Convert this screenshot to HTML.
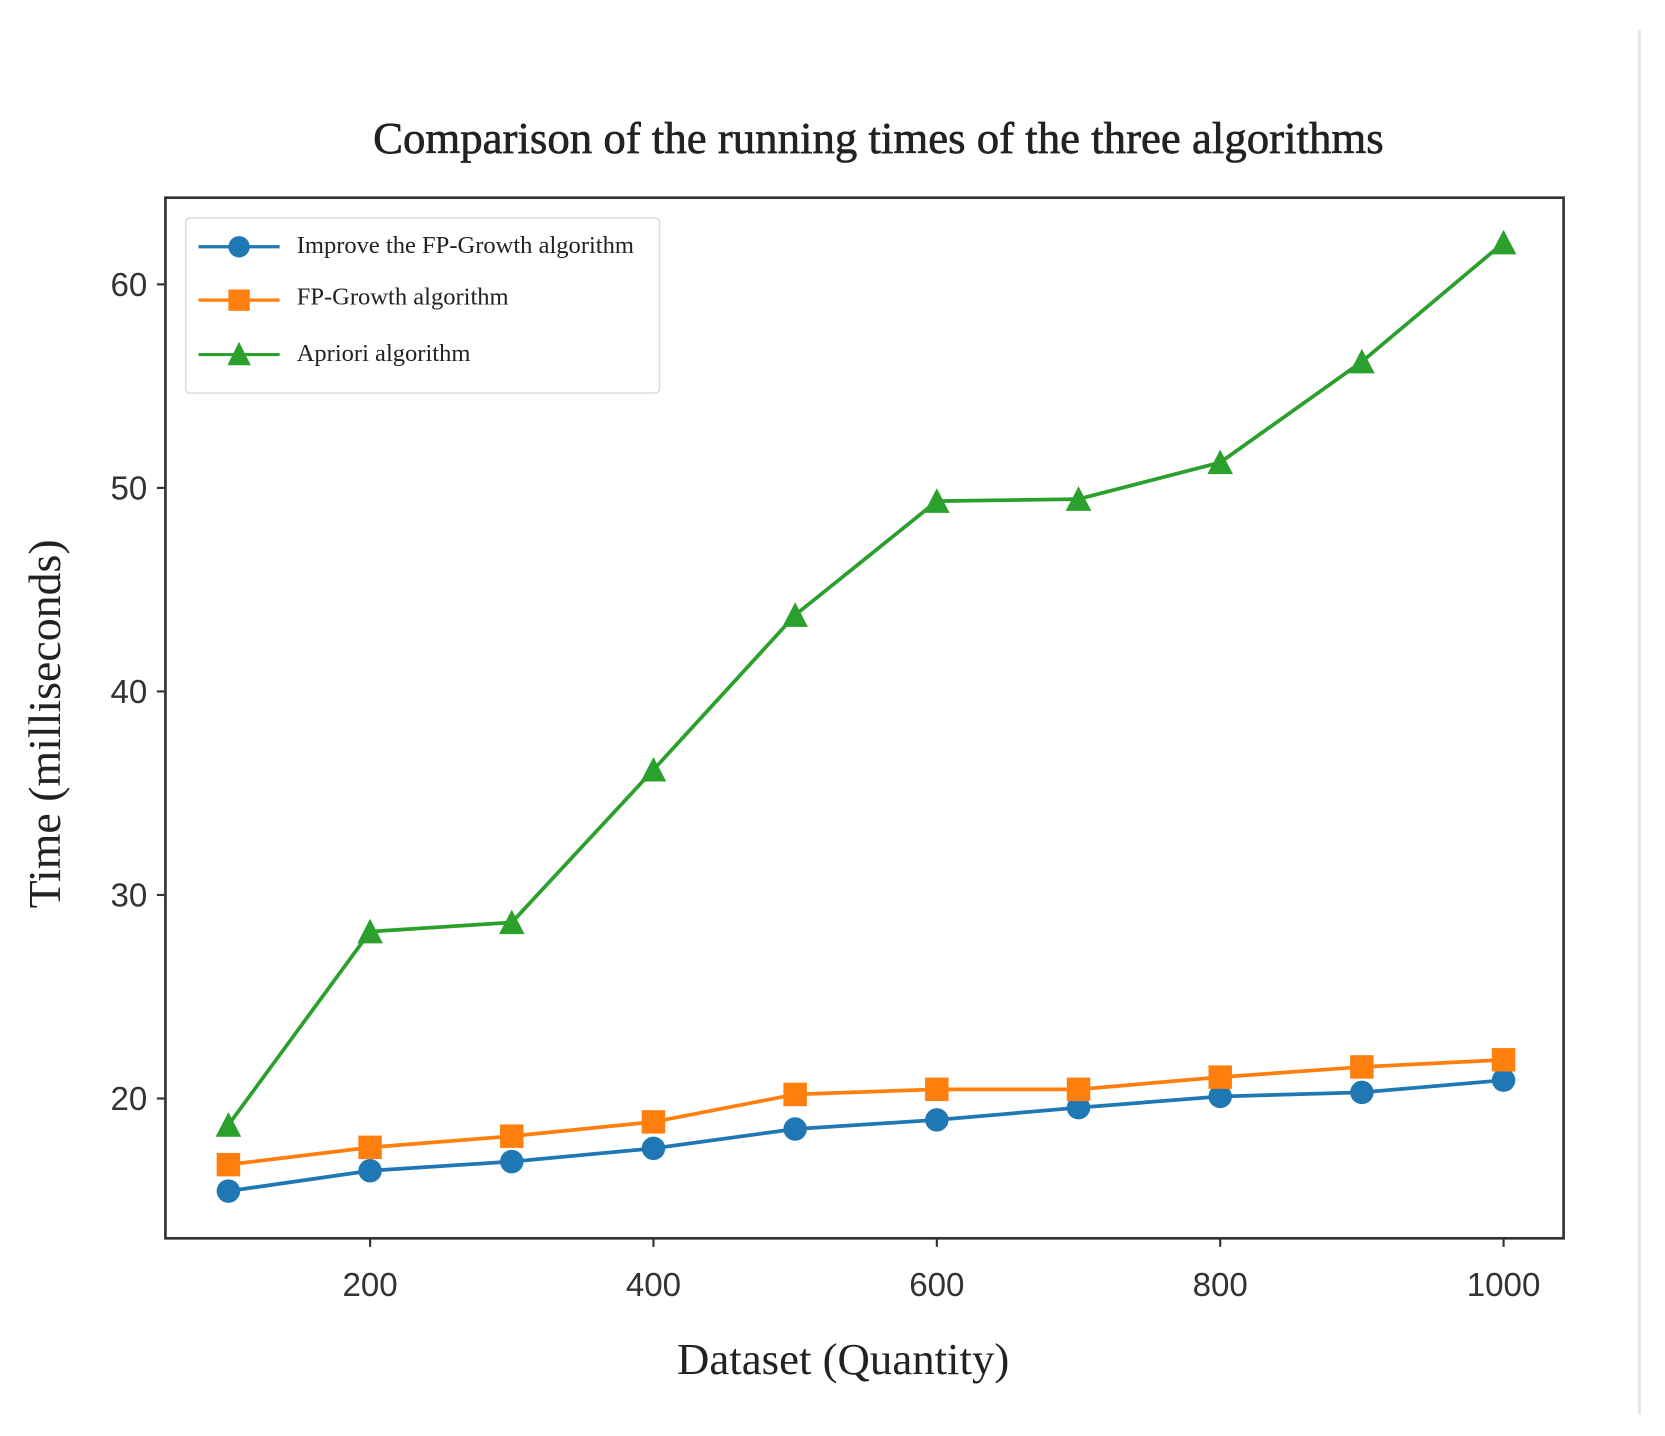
<!DOCTYPE html>
<html><head><meta charset="utf-8"><style>
html,body{margin:0;padding:0;background:#fff;}
svg{display:block;}
.serif{font-family:"Liberation Serif",serif;fill:#222;}
.sans{font-family:"Liberation Sans",sans-serif;fill:#333;}
</style></head><body>
<svg id="chart" width="1665" height="1436" viewBox="0 0 1560 1345" xmlns="http://www.w3.org/2000/svg">
<line x1="1536" y1="28" x2="1536" y2="1325" stroke="#e6e6e6" stroke-width="3"/>
<text class="serif" x="823" y="143" font-size="42" text-anchor="middle" stroke="#222" stroke-width="0.6">Comparison of the running times of the three algorithms</text>
<rect x="155" y="185" width="1310" height="975" fill="none" stroke="#333" stroke-width="2.5"/>
<g id="ticks"></g>
<g id="series"></g>
<text class="serif" x="790" y="1287" font-size="42" text-anchor="middle">Dataset (Quantity)</text>
<text class="serif" x="56" y="678" font-size="43" text-anchor="middle" transform="rotate(-90 56 678)">Time (milliseconds)</text>
<g>
<rect x="174" y="204" width="444" height="164" rx="4" fill="#fff" stroke="#ddd" stroke-width="1.5"/>
<g>
<line x1="186" y1="231" x2="262" y2="231" stroke="#1f77b4" stroke-width="3"/><circle cx="224" cy="231" r="10" fill="#1f77b4"/>
<text class="serif" x="278" y="237" font-size="23" fill="#444">Improve the FP-Growth algorithm</text></g>
<g>
<line x1="186" y1="281" x2="262" y2="281" stroke="#ff7f0e" stroke-width="3"/><rect x="214" y="271" width="20" height="20" fill="#ff7f0e"/>
<text class="serif" x="278" y="285" font-size="23" fill="#444">FP-Growth algorithm</text></g>
<g>
<line x1="186" y1="332" x2="262" y2="332" stroke="#2ca02c" stroke-width="3"/><polygon points="224,320 235,342 213,342" fill="#2ca02c"/>
<text class="serif" x="278" y="338" font-size="23" fill="#444">Apriori algorithm</text></g>
</g>
</svg>
<script>
const categories = [100,200,300,400,500,600,700,800,900,1000];
const improvedValues = [15.45,16.45,16.9,17.55,18.5,18.95,19.55,20.1,20.3,20.9];
const fpGrowthValues = [16.75,17.6,18.15,18.85,20.2,20.45,20.45,21.05,21.55,21.9];
const aprioriValues = [18.7,28.2,28.65,36.15,43.75,49.35,49.45,51.25,56.2,62.05];
const xTickLabels = [200,400,600,800,1000];
const yTickLabels = [20,30,40,50,60];

const NS = "http://www.w3.org/2000/svg";
function xScale(v){ return 214 + (v-100)*1.3275; }
function yScale(v){ return 1029 - (v-20)*19.07; }
function mk(tag, attrs, parent){ const e=document.createElementNS(NS,tag); for(const k in attrs) e.setAttribute(k,attrs[k]); parent.appendChild(e); return e; }

const ticks=document.getElementById('ticks');
xTickLabels.forEach(v=>{
  const x=xScale(v);
  const t=mk('line',{x1:x,y1:1160,x2:x,y2:1168,stroke:'#333','stroke-width':2},ticks);
  
  
  const l=mk('text',{x:x,y:1214,'font-size':31,'text-anchor':'middle',class:'sans'},ticks);
  l.textContent=v;
  
  
});
yTickLabels.forEach(v=>{
  const y=yScale(v);
  const t=mk('line',{x1:147,y1:y,x2:155,y2:y,stroke:'#333','stroke-width':2},ticks);
  
  
  const l=mk('text',{x:138,y:y+11,'font-size':31,'text-anchor':'end',class:'sans'},ticks);
  l.textContent=v;
  
  
});

const seriesG=document.getElementById('series');
function drawSeries(vals,color,marker,name){
  const g=mk('g',{},seriesG);
  
  
  const pts=vals.map((v,i)=>xScale(categories[i])+','+yScale(v)).join(' ');
  const pl=mk('polyline',{points:pts,fill:'none',stroke:color,'stroke-width':3.5,'stroke-linejoin':'round'},g);
  
  
  vals.forEach((v,i)=>{
    const x=xScale(categories[i]), y=yScale(v);
    let m;
    if(marker==='circle') m=mk('circle',{cx:x,cy:y,r:11,fill:color},g);
    else if(marker==='square') m=mk('rect',{x:x-11,y:y-11,width:22,height:22,fill:color},g);
    else m=mk('polygon',{points:`${x},${y-12} ${x+12},${y+11} ${x-12},${y+11}`,fill:color},g);
    
    
  });
}
drawSeries(improvedValues,'#1f77b4','circle','improved-fpgrowth-series');
drawSeries(fpGrowthValues,'#ff7f0e','square','fpgrowth-series');
drawSeries(aprioriValues,'#2ca02c','triangle','apriori-series');
</script>
</body></html>
